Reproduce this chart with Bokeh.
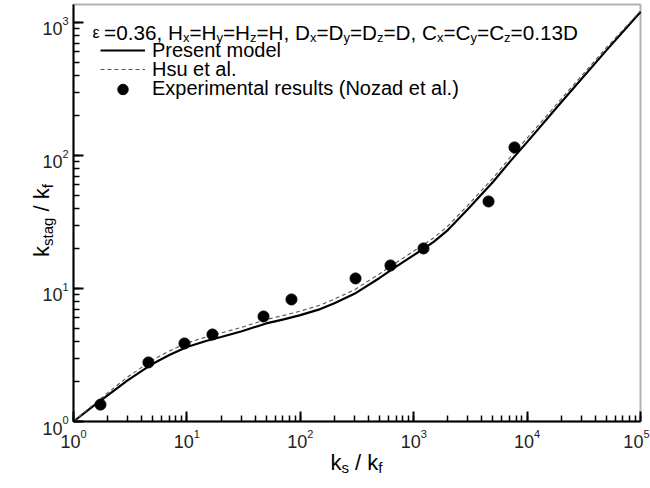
from math import pi
from bokeh.plotting import figure
from bokeh.models import (Range1d, Label, Legend, LegendItem, CustomJSTickFormatter,
                          LogTicker, BoxAnnotation)
from bokeh.embed import file_html
from bokeh.resources import INLINE

# ---------------- data ----------------
present_ks = [1, 1.5, 2, 3, 5, 7, 10, 15, 20, 30, 50, 70, 100, 150, 200, 300, 500, 700,
              1000, 1500, 2000, 3000, 5000, 7000, 10000, 20000, 50000, 100000]
present_kstag = [1.0, 1.31, 1.57, 2.04, 2.72, 3.16, 3.63, 4.05, 4.32, 4.75, 5.46, 5.83, 6.31,
                 7.0, 7.76, 9.12, 12.0, 14.6, 17.8, 22.4, 27.5, 39.4, 63.1, 89.1, 126, 251, 617, 1200]

hsu_ks = [1, 1.5, 2, 3, 5, 7, 10, 15, 20, 30, 50, 70, 100, 150, 200, 300, 500, 700,
          1000, 1500, 2000, 3000, 5000, 7000, 10000, 20000, 50000, 100000]
hsu_kstag = [1.0, 1.34, 1.64, 2.16, 2.91, 3.39, 3.89, 4.34, 4.63, 5.09, 5.85, 6.25, 6.76,
             7.5, 8.32, 9.77, 12.9, 15.6, 19.1, 24.0, 29.5, 42.2, 67.6, 95.5, 135, 266, 646, 1217]

exp_ks = [1.73, 4.58, 9.52, 16.8, 47.4, 83.6, 307, 624, 1220, 4570, 7740]
exp_kstag = [1.34, 2.78, 3.86, 4.51, 6.16, 8.27, 11.9, 14.9, 20.0, 45.1, 115]

series_labels = ["Present model", "Hsu et al.", "Experimental results (Nozad et al.)"]
x_tick_values = [1, 10, 100, 1000, 10000, 100000]
x_tick_exponents = ["0", "1", "2", "3", "4", "5"]
y_tick_values = [1, 10, 100, 1000]
y_tick_exponents = ["0", "1", "2", "3"]

X_MIN, X_MAX = 1, 1e5
Y_MIN, Y_MAX = 1, 1365

# ---------------- geometry (page pixels) ----------------
FONT = "Liberation Sans"
W_FIG, H_FIG = 650, 480
PAGE_Y0 = 8                      # the figure's top edge sits 8 px down the page
BOX_L, BOX_R, BOX_T, BOX_B = 73, 640, 12, 429   # the drawn chart box, page pixels
DEC_X = (BOX_R - BOX_L) / 5.0
DEC_Y = (BOX_B - BOX_T) / 3.1351
x_range = Range1d(10 ** (-BOX_L / DEC_X), 10 ** (5 + (W_FIG - BOX_R) / DEC_X))
y_range = Range1d(10 ** (-(H_FIG + PAGE_Y0 - BOX_B) / DEC_Y),
                  10 ** (3.1351 + (BOX_T - PAGE_Y0) / DEC_Y))

p = figure(width=W_FIG, height=H_FIG, x_axis_type="log", y_axis_type="log",
           x_range=x_range, y_range=y_range, output_backend="svg", toolbar_location=None,
           title_location=None,
           min_border_left=0, min_border_right=0, min_border_top=0, min_border_bottom=0)
p.xgrid.visible = False
p.ygrid.visible = False
p.outline_line_color = None
p.background_fill_color = "white"
p.border_fill_color = "white"

blank = CustomJSTickFormatter(code="return '';")
xa, ya = p.xaxis[0], p.yaxis[0]
xa.fixed_location = Y_MIN
ya.fixed_location = X_MIN
xa.bounds = (X_MIN, X_MAX)
ya.bounds = (Y_MIN, Y_MAX)
for ax in (xa, ya):
    ax.ticker = LogTicker(num_minor_ticks=10)
    ax.formatter = blank
    ax.axis_line_width = 2
    ax.axis_line_color = "black"
    ax.major_tick_in = 10
    ax.major_tick_out = 0
    ax.minor_tick_in = 6
    ax.minor_tick_out = 0
    ax.major_tick_line_width = 2
    ax.minor_tick_line_width = 1.5

p.add_layout(BoxAnnotation(left=X_MIN, right=X_MAX, bottom=Y_MIN, top=Y_MAX,
                           fill_alpha=0, line_color="black", line_width=2))

r_present = p.line(present_ks, present_kstag, line_color="black", line_width=2.2)
r_hsu = p.line(hsu_ks, hsu_kstag, line_color="#555555", line_width=1.1, line_dash="4 3")
r_exp = p.scatter(exp_ks, exp_kstag, marker="circle", size=11, fill_color="black", line_color="black")

# one legend per entry, positioned from the frame's bottom-left corner
ROW_H = 26
for lab, r, cy in zip(series_labels, [r_present, r_hsu, r_exp], [50, 69, 88.5]):
    lg = Legend(items=[LegendItem(label=lab, renderers=[r])],
                location=(100, (H_FIG - cy) - ROW_H / 2),
                margin=0, padding=0, spacing=0,
                glyph_width=45, glyph_height=ROW_H, label_height=ROW_H, label_standoff=7,
                label_text_font=FONT, label_text_font_size="20px", label_text_color="black",
                border_line_color=None, background_fill_alpha=0)
    p.add_layout(lg)

# ---------------- text helpers ----------------
W = {' ': 278, '!': 278, '(': 333, ')': 333, ',': 278, '.': 278, '/': 278, '=': 584,
     '0': 556, '1': 556, '2': 556, '3': 556, '4': 556, '5': 556, '6': 556,
     'A': 667, 'B': 667, 'C': 722, 'D': 722, 'E': 667, 'H': 722, 'N': 722, 'P': 667,
     'a': 556, 'b': 556, 'c': 500, 'd': 556, 'e': 556, 'f': 278, 'g': 556, 'h': 556,
     'i': 222, 'k': 500, 'l': 222, 'm': 833, 'n': 556, 'o': 556, 'p': 556, 'r': 333,
     's': 500, 't': 278, 'u': 556, 'x': 500, 'y': 500, 'z': 500, '\u03b5': 446}


def text_width(s, size):
    return sum(W.get(c, 556) for c in s) * size / 1000.0


def put_at(text, xd, yd, dx, dy, size, align="left", angle=0.0, color="black"):
    """Text anchored at data point (xd, yd), shifted dx right and dy down (pixels)."""
    p.add_layout(Label(x=xd, y=yd, x_units="data", y_units="data",
                       x_offset=dx, y_offset=-dy, text=text, text_font=FONT,
                       text_font_size=f"{size}px", text_baseline="alphabetic",
                       text_align=align, text_color=color, angle=angle))


def put(text, px, py, size, angle=0.0):
    put_at(text, X_MIN, Y_MAX, px - BOX_L, py - BOX_T, size, angle=angle)


def rich_h(pieces, px, py, center=False):
    if center:
        px -= sum(text_width(t, s) for t, s, _ in pieces) / 2
    for t, s, d in pieces:
        lead = len(t) - len(t.lstrip())
        put(t.strip(), px + text_width(t[:lead], s), py + d, s)
        px += text_width(t, s)


def rich_v(pieces, px, py_center):
    py = py_center + sum(text_width(t, s) for t, s, _ in pieces) / 2
    for t, s, d in pieces:
        lead = len(t) - len(t.lstrip())
        put(t.strip(), px + d, py - text_width(t[:lead], s), s, angle=pi / 2)
        py -= text_width(t, s)


# tick labels: "10" with a raised exponent
TICK, SUP = 18, 11
for v, e in zip(y_tick_values, y_tick_exponents):
    put_at("10", X_MIN, v, -11, 6.5, TICK, align="right", color="#222222")
    put_at(e, X_MIN, v, -11, -1.5, SUP, color="#222222")
for v, e in zip(x_tick_values, x_tick_exponents):
    gw = text_width("10", TICK) + text_width(e, SUP)
    start = -gw / 2
    room = (W_FIG - 1) - BOX_R if v == X_MAX else None
    if room is not None and start + gw > room:
        start = room - gw
    put_at("10", v, Y_MIN, start, 20, TICK, color="#222222")
    put_at(e, v, Y_MIN, start + text_width("10", TICK), 12, SUP, color="#222222")

M, S, D = 20.7, 13, 5
rich_h([("\u03b5 ", 16, 0), ("=0.36, H", M, 0), ("x", S, D), ("=H", M, 0), ("y", S, D),
        ("=H", M, 0), ("z", S, D), ("=H, D", M, 0), ("x", S, D), ("=D", M, 0), ("y", S, D),
        ("=D", M, 0), ("z", S, D), ("=D, C", M, 0), ("x", S, D), ("=C", M, 0), ("y", S, D),
        ("=C", M, 0), ("z", S, D), ("=0.13D", M, 0)], 92, 40)

rich_h([("k", 22, 0), ("s", 15, 5), (" / k", 22, 0), ("f", 15, 5)], 356, 470, center=True)
rich_v([("k", 22, 0), ("stag", 15, 6), (" / k", 22, 0), ("f", 15, 6)], 41, 228)

open("out.html", "w").write(file_html(p, INLINE))
